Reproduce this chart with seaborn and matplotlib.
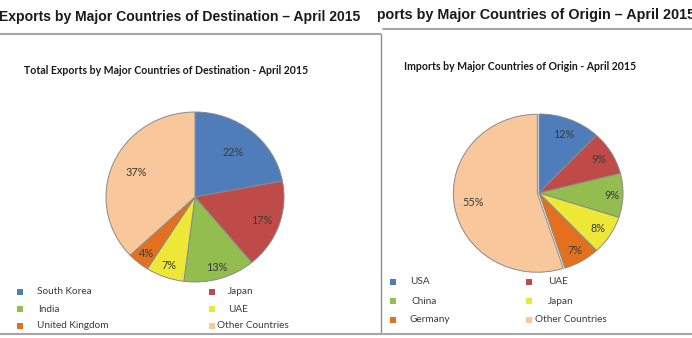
import numpy as np
import matplotlib
matplotlib.use("Agg")
import matplotlib.pyplot as plt
from matplotlib.patches import Rectangle
import seaborn as sns

# ---------------- data ----------------
exp_countries = ["South Korea", "Japan", "India", "UAE", "United Kingdom", "Other Countries"]
exp_values = [22, 17, 13, 7, 4, 37]
imp_countries = ["USA", "UAE", "China", "Japan", "Germany", "Other Countries"]
imp_values = [12, 9, 9, 8, 7, 55]

exp_title_big = "Exports by Major Countries of Destination \u2013 April 2015"
imp_title_big = "Imports by Major Countries of Origin \u2013 April 2015"
exp_title = "Total Exports by Major Countries of Destination - April 2015"
imp_title = "Imports by Major Countries of Origin - April 2015"

colors = ["#4F7DBA", "#BE4B48", "#93BD4F", "#EDE838", "#E3701E", "#F8C79C"]

sns.set_theme(style="white")
plt.rcParams["font.family"] = ["Lato", "DejaVu Sans"]

W, H = 692, 338
fig = plt.figure(figsize=(W / 100, H / 100), dpi=100)

# background axes in pixel coordinates
bg = fig.add_axes([0, 0, 1, 1])
bg.set_xlim(0, W)
bg.set_ylim(H, 0)
bg.axis("off")

def px_axes(x0, y0, w, h):
    return fig.add_axes([x0 / W, 1 - (y0 + h) / H, w / W, h / H])

line_c = "#A6A6A6"
# left panel frame
bg.plot([0, 381], [34, 34], color=line_c, lw=1.5, solid_capstyle="butt")
bg.plot([381, 381], [34, 334], color="#8C8C8C", lw=1.0)
bg.plot([0, 381], [334, 334], color=line_c, lw=1.5)
# right panel frame
bg.plot([383, W], [29, 29], color=line_c, lw=1.5)
bg.plot([383, W], [334, 334], color=line_c, lw=1.5)

big_font = dict(family=["Liberation Sans", "DejaVu Sans"], fontweight="bold",
                color="#1a1a1a")
bg.text(-1, 17, exp_title_big, ha="left", va="center", fontsize=10.1, **big_font)
# right big title, clipped at left edge of right panel (as in the reference screenshot)
rp = px_axes(378, 0, W - 378, 40)
rp.set_xlim(378, W)
rp.set_ylim(40, 0)
rp.axis("off")
rp.text(695, 15, imp_title_big, ha="right", va="center", clip_on=True,
        fontsize=10.4, **big_font)

small_title = dict(fontweight="bold", fontsize=7.6, color="#1a1a1a")
bg.text(24, 70, exp_title, ha="left", va="center", **small_title)
bg.text(404, 66, imp_title, ha="left", va="center", **small_title)


def draw_pie(cx, cy, rx, ry, values, dists, explode=None):
    ax = px_axes(cx - rx, cy - ry, 2 * rx, 2 * ry)
    wedges, _ = ax.pie(values, colors=colors, startangle=90, counterclock=False,
                       explode=explode,
                       wedgeprops=dict(edgecolor="#8A8A8A", linewidth=0.7))
    ax.set_aspect("auto")
    ax.set_xlim(-1, 1)
    ax.set_ylim(-1, 1)
    ax.axis("off")
    for w, v, d in zip(wedges, values, dists):
        th = np.deg2rad((w.theta1 + w.theta2) / 2)
        ax.text(d * np.cos(th), d * np.sin(th), f"{v}%", ha="center", va="center",
                fontsize=7.8, color="#3A3A3A")
    return ax


draw_pie(195, 197, 89, 85, exp_values, [0.68, 0.80, 0.86, 0.86, 0.86, 0.72])
draw_pie(539, 193, 84, 79, imp_values, [0.80, 0.83, 0.87, 0.83, 0.85, 0.80],
         explode=[0, 0, 0, 0, 0, 0.02])


def draw_legend(names, col_marker_x, col_text_x, row_y, order):
    for idx, (r, c) in enumerate(order):
        mx = col_marker_x[c]
        tx = col_text_x[idx]
        y = row_y[r]
        bg.add_patch(Rectangle((mx - 3, y - 3), 6, 6, facecolor=colors[idx],
                               edgecolor="none"))
        bg.text(tx, y, names[idx], ha="left", va="center", fontsize=7.2,
                color="#3A3A3A")


order = [(0, 0), (0, 1), (1, 0), (1, 1), (2, 0), (2, 1)]
draw_legend(exp_countries, [20, 212], [37, 228, 38, 228, 37, 217], [292, 309, 326], order)
draw_legend(imp_countries, [393, 529], [410, 548, 412, 548, 410, 535], [282, 301, 320], order)

fig.savefig("out.png", dpi=100)
